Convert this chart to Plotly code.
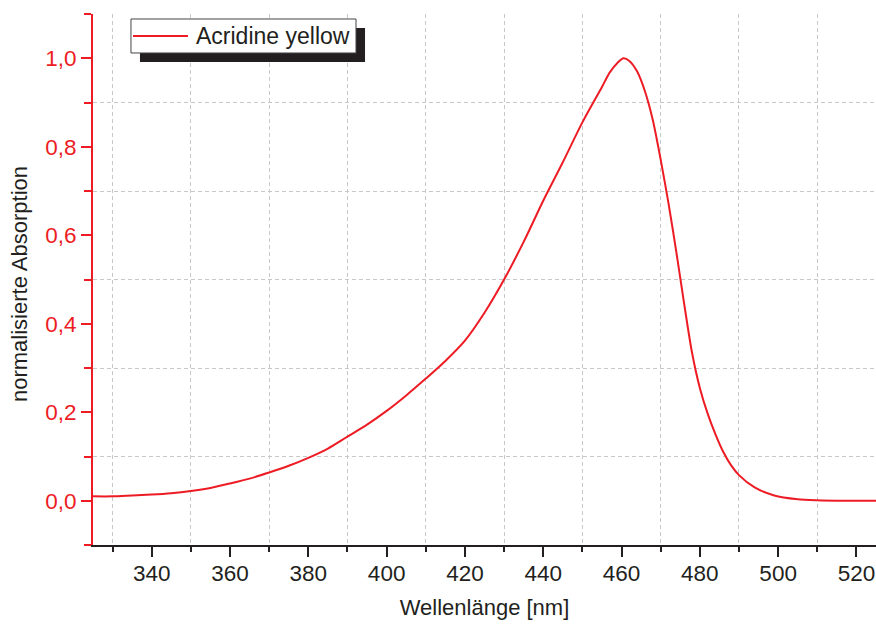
import plotly.graph_objects as go

# Wavelength (nm) and normalized absorption
wavelength = [325, 330, 335, 340, 345, 350, 355, 360, 365, 370, 375, 380, 385, 390,
              395, 400, 405, 410, 415, 420, 425, 430, 435, 440, 445, 450, 455,
              457, 459, 460.5, 462, 464, 466, 468, 470, 472, 474, 476, 478, 480,
              482, 484, 486, 488, 490, 494, 499, 505, 510, 515, 520, 525]
absorption = [0.010, 0.010, 0.012, 0.014, 0.017, 0.022, 0.029, 0.039, 0.050, 0.064,
              0.079, 0.097, 0.118, 0.145, 0.172, 0.203, 0.238, 0.276, 0.316, 0.362,
              0.425, 0.500, 0.585, 0.678, 0.765, 0.855, 0.935,
              0.968, 0.990, 1.000, 0.994, 0.970, 0.925, 0.860, 0.771, 0.672, 0.562,
              0.445, 0.335, 0.255, 0.197, 0.150, 0.110, 0.080, 0.058, 0.030, 0.012,
              0.0035, 0.001, 0.0, 0.0, 0.0]
series_name = "Acridine yellow"
x_title = "Wellenlänge [nm]"
y_title = "normalisierte Absorption"

RED = "#ed1c24"
BLACK = "#231f20"
GRID = "#c8c8c8"
FONT = "Liberation Sans, Arial, sans-serif"

fig = go.Figure()
fig.add_trace(go.Scatter(
    x=wavelength, y=absorption, mode="lines", name=series_name,
    line=dict(color=RED, width=2, shape="spline", smoothing=0.8),
    showlegend=False,
))

# Legend drawn as a framed box with a drop shadow (paper coordinates)
fig.update_layout(
    width=876, height=625,
    margin=dict(l=93, r=0, t=14, b=80),
    paper_bgcolor="white", plot_bgcolor="white",
    separators=", ",
    font=dict(family=FONT, size=22, color=BLACK),
    showlegend=False,
    shapes=[
        dict(type="rect", xref="paper", yref="paper",
             x0=0.0600, x1=0.3474, y0=0.9096, y1=0.9736,
             fillcolor=BLACK, line=dict(width=0), layer="above"),
        dict(type="rect", xref="paper", yref="paper",
             x0=0.0485, x1=0.3359, y0=0.9266, y1=0.9906,
             fillcolor="white", line=dict(color="#444444", width=1), layer="above"),
        dict(type="line", xref="paper", yref="paper",
             x0=0.0511, x1=0.1213, y0=0.9586, y1=0.9586,
             line=dict(color=RED, width=2), layer="above"),
    ],
    annotations=[
        dict(text=series_name, xref="paper", yref="paper",
             x=0.1290, y=0.9586, xanchor="left", yanchor="middle",
             showarrow=False, font=dict(family=FONT, size=23, color=BLACK)),
        dict(text=y_title, xref="paper", yref="paper",
             x=-0.0945, y=0.4915, xanchor="center", yanchor="middle",
             textangle=-90, showarrow=False,
             font=dict(family=FONT, size=22, color=BLACK)),
    ],
)

fig.update_xaxes(
    range=[325, 525], tick0=340, dtick=20,
    showline=True, linecolor=BLACK, linewidth=2,
    ticks="outside", ticklen=10, tickwidth=2, tickcolor=BLACK,
    tickfont=dict(family=FONT, size=22.5, color=BLACK),
    ticklabelstandoff=-3,
    showgrid=False, zeroline=False,
    minor=dict(dtick=10, ticks="outside", ticklen=5, tickwidth=2, tickcolor=BLACK,
               showgrid=True, gridcolor=GRID, gridwidth=1, griddash="4px,3px"),
    title=dict(text=x_title, font=dict(family=FONT, size=22, color=BLACK), standoff=15),
)
fig.update_yaxes(
    range=[-0.1, 1.1], tick0=0, dtick=0.2, tickformat=".1f",
    showline=True, linecolor=RED, linewidth=2,
    ticks="outside", ticklen=10, tickwidth=2, tickcolor=RED,
    tickfont=dict(family=FONT, size=22.5, color=RED),
    showgrid=False, zeroline=False,
    minor=dict(dtick=0.1, ticks="outside", ticklen=7, tickwidth=2, tickcolor=RED,
               showgrid=True, gridcolor=GRID, gridwidth=1, griddash="4px,3px"),
)

fig.write_html("out.html")
